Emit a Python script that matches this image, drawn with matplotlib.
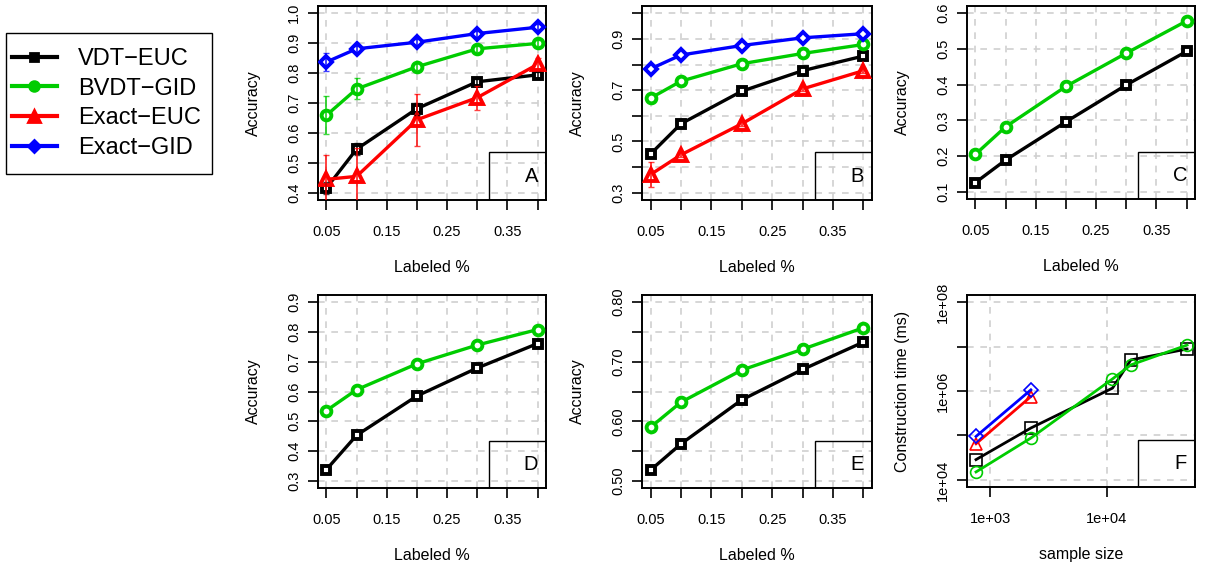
import matplotlib
matplotlib.use('Agg')
import matplotlib.pyplot as plt
from matplotlib.lines import Line2D
from matplotlib.patches import Rectangle

plt.rcParams['font.family'] = ['Liberation Sans', 'DejaVu Sans']

# data
labeled = [0.05, 0.10, 0.20, 0.30, 0.40]

# panel A
a_vdt = [0.416, 0.546, 0.681, 0.771, 0.794]
a_bvdt = [0.659, 0.747, 0.821, 0.881, 0.899]
a_exeuc = [0.445, 0.455, 0.644, 0.718, 0.829]
a_exgid = [0.837, 0.881, 0.903, 0.932, 0.953]
a_vdt_err = [0.02, 0.02, 0.02, 0.01, 0.01]
a_bvdt_err = [0.064, 0.035, 0.012, 0.01, 0.01]
a_exeuc_err = [0.08, 0.095, 0.086, 0.04, 0.02]
a_exgid_err = [0.03, 0.01, 0.01, 0.01, 0.01]

# panel B
b_vdt = [0.451, 0.569, 0.696, 0.776, 0.833]
b_bvdt = [0.669, 0.735, 0.803, 0.843, 0.878]
b_exeuc = [0.371, 0.448, 0.569, 0.705, 0.776]
b_exgid = [0.783, 0.837, 0.874, 0.904, 0.920]
b_exeuc_err = [0.05, 0.01, 0.01, 0.01, 0.01]

# panel C
c_vdt = [0.126, 0.189, 0.296, 0.399, 0.493]
c_bvdt = [0.205, 0.282, 0.395, 0.488, 0.578]

# panel D
d_vdt = [0.338, 0.453, 0.585, 0.679, 0.761]
d_bvdt = [0.536, 0.606, 0.693, 0.756, 0.808]

# panel E
e_vdt = [0.518, 0.562, 0.636, 0.687, 0.733]
e_bvdt = [0.590, 0.632, 0.686, 0.721, 0.757]

# panel F (construction time vs sample size)
f_size = [754, 2230, 11190, 16060, 48860]
f_size_exact = [754, 2230]
f_vdt = [2.86e4, 1.47e5, 1.16e6, 5.0e6, 8.8e6]
f_bvdt = [1.51e4, 8.75e4, 1.87e6, 3.86e6, 1.08e7]
f_exeuc = [6.5e4, 7.5e5]
f_exgid = [9.5e4, 1.06e6]

names = ['VDT\u2212EUC', 'BVDT\u2212GID', 'Exact\u2212EUC', 'Exact\u2212GID']
colors = ['black', '#00cc00', 'red', 'blue']
markers = ['s', 'o', '^', 'D']
msizes = [6, 7, 8.5, 6.5]

W, H = 1206, 563
fig = plt.figure(figsize=(W / 100, H / 100), dpi=100)

def add_ax(x0, x1, y0, y1):
    return fig.add_axes([x0 / W, 1 - y1 / H, (x1 - x0) / W, (y1 - y0) / H])

def grid_style(ax):
    ax.grid(True, color='#d0d0d0', linestyle=(0, (4, 4)), linewidth=1.2)
    ax.set_axisbelow(True)
    for s in ax.spines.values():
        s.set_linewidth(1.4)
    ax.tick_params(axis='both', length=7, width=1.2, labelsize=10.5)
    ax.tick_params(axis='x', pad=11)
    ax.tick_params(axis='y', pad=5)
    for lab in ax.get_yticklabels():
        lab.set_rotation(90)
        lab.set_va('center')

def letter_box(ax, letter):
    ax.add_patch(Rectangle((0.75, 0), 0.25, 0.245, transform=ax.transAxes,
                           fill=False, edgecolor='black', lw=1.0, zorder=5))
    ax.text(0.965, 0.12, letter, transform=ax.transAxes, ha='right',
            va='center', fontsize=14.5, zorder=6)

def acc_panel(ax, series, errs, ylo, yhi, ystep, ylabels, letter):
    for i, y in series.items():
        ax.plot(labeled, y, color=colors[i], lw=2.4, marker=markers[i],
                ms=msizes[i], mew=2.8, mfc='white', zorder=3)
        if errs.get(i) is not None:
            ax.errorbar(labeled, y, yerr=errs[i], fmt='none',
                        ecolor=colors[i], elinewidth=1.4, capsize=2.5,
                        alpha=0.75, zorder=4)
    r = 0.35 * 0.04
    ax.set_xlim(0.05 - r, 0.40 + r)
    ry = (yhi - ylo) * 0.04
    ax.set_ylim(ylo - ry, yhi + ry)
    xt = [0.05, 0.10, 0.15, 0.20, 0.25, 0.30, 0.35, 0.40]
    ax.set_xticks(xt)
    ax.set_xticklabels(['0.05', '', '0.15', '', '0.25', '', '0.35', ''])
    n = int(round((yhi - ylo) / ystep)) + 1
    yt = [ylo + k * ystep for k in range(n)]
    ax.set_yticks(yt)
    ax.set_yticklabels(ylabels)
    ax.set_xlabel('Labeled %', fontsize=11.5)
    ax.set_ylabel('Accuracy', fontsize=11.5)
    ax.xaxis.set_label_coords(0.5, -0.31)
    ax.yaxis.set_label_coords(-0.25, 0.5)
    grid_style(ax)
    letter_box(ax, letter)

axA = add_ax(318, 546, 6, 200)
acc_panel(axA, {0: a_vdt, 1: a_bvdt, 2: a_exeuc, 3: a_exgid},
          {0: a_vdt_err, 1: a_bvdt_err, 2: a_exeuc_err, 3: a_exgid_err},
          0.4, 1.0, 0.1, ['0.4', '0.5', '0.6', '0.7', '0.8', '0.9', '1.0'], 'A')

axB = add_ax(642, 872, 6, 200)
acc_panel(axB, {0: b_vdt, 1: b_bvdt, 2: b_exeuc, 3: b_exgid},
          {2: b_exeuc_err},
          0.3, 1.0, 0.1, ['0.3', '', '0.5', '', '0.7', '', '0.9', ''], 'B')

axC = add_ax(967, 1195, 6, 199)
acc_panel(axC, {0: c_vdt, 1: c_bvdt}, {},
          0.1, 0.6, 0.1, ['0.1', '0.2', '0.3', '0.4', '0.5', '0.6'], 'C')

axD = add_ax(318, 546, 295, 488)
acc_panel(axD, {0: d_vdt, 1: d_bvdt}, {},
          0.3, 0.9, 0.1, ['0.3', '0.4', '0.5', '0.6', '0.7', '0.8', '0.9'], 'D')

axE = add_ax(642, 872, 295, 488)
acc_panel(axE, {0: e_vdt, 1: e_bvdt}, {},
          0.5, 0.8, 0.05, ['0.50', '', '0.60', '', '0.70', '', '0.80'], 'E')

# panel F, log-log
axF = add_ax(967, 1195, 295, 487)
f_series = [(f_size, f_vdt, 0, 's'), (f_size, f_bvdt, 1, 'o'),
            (f_size_exact, f_exeuc, 2, '^'), (f_size_exact, f_exgid, 3, 'D')]
for xs, ys, i, m in f_series:
    axF.plot(xs, ys, color=colors[i], lw=2, marker=m, ms=8.5 if m != 'D' else 7.5,
             mew=1.2, mfc='none', zorder=3)
axF.set_xscale('log')
axF.set_yscale('log')
axF.set_xlim(10 ** 2.8, 10 ** 4.757)
axF.set_ylim(10 ** 3.84, 10 ** 8.16)
axF.set_xticks([1e3, 1e4])
axF.set_xticklabels(['1e+03', '1e+04'])
axF.set_yticks([1e4, 1e5, 1e6, 1e7, 1e8])
axF.set_yticklabels(['1e+04', '', '1e+06', '', '1e+08'])
axF.minorticks_off()
axF.set_xlabel('sample size', fontsize=11.5)
axF.set_ylabel('Construction time (ms)', fontsize=11.5)
axF.xaxis.set_label_coords(0.5, -0.31)
axF.yaxis.set_label_coords(-0.25, 0.5)
grid_style(axF)
letter_box(axF, 'F')

# legend: frame drawn separately, entries placed inside it
fig.add_artist(Rectangle((6 / W, 1 - 174 / H), 206 / W, 141 / H,
                         transform=fig.transFigure, fill=False,
                         edgecolor='black', lw=1.0))
handles = [Line2D([], [], color=colors[i], lw=3, marker=markers[i],
                  ms=msizes[i], mew=2, mfc=colors[i]) for i in range(4)]
fig.legend(handles, names, loc='center left',
           bbox_to_anchor=(12 / W, 1 - 103.5 / H), fontsize=17,
           frameon=False, handlelength=1.9, handletextpad=0.9,
           labelspacing=0.33, borderpad=0, borderaxespad=0)

fig.savefig('out.png', dpi=100)
